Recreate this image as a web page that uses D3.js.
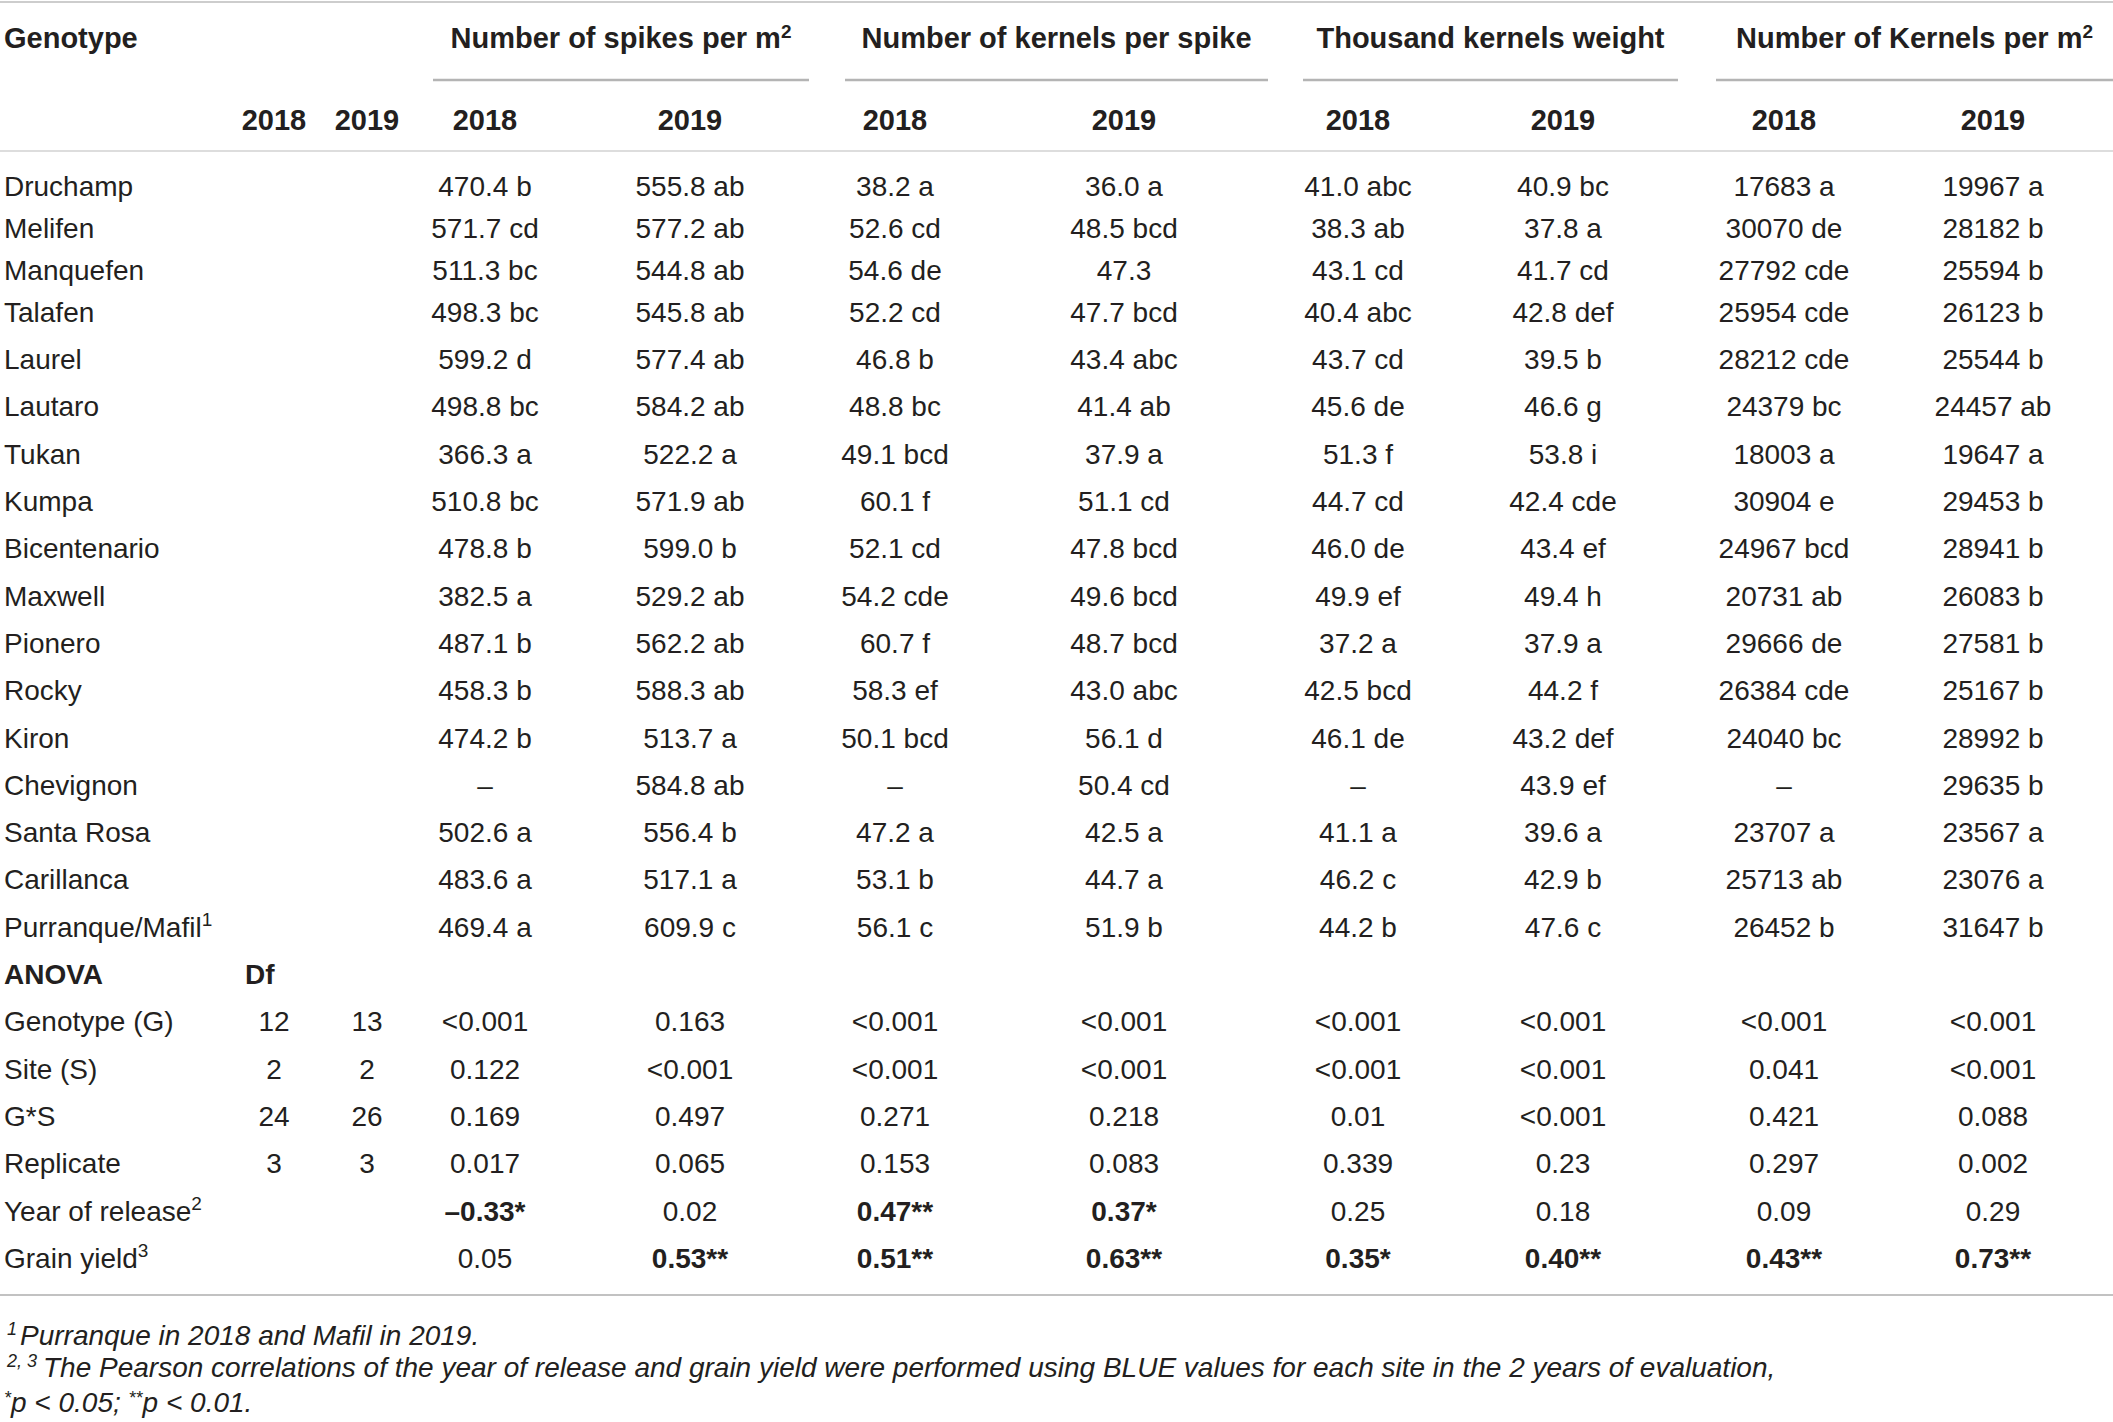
<!DOCTYPE html>
<html>
<head>
<meta charset="utf-8">
<script src="https://cdn.jsdelivr.net/npm/d3@7"></script>
<style>
  html, body { margin: 0; padding: 0; background: #fff; }
  svg text { font-family: "Liberation Sans", Arial, sans-serif; fill: #231f20; }
</style>
</head>
<body>
<div id="chart"></div>
<script>
const genotypes = ["Druchamp", "Melifen", "Manquefen", "Talafen", "Laurel", "Lautaro", "Tukan", "Kumpa",
    "Bicentenario", "Maxwell", "Pionero", "Rocky", "Kiron", "Chevignon", "Santa Rosa", "Carillanca", "Purranque/Mafil"];
const genotypeNotes = ["", "", "", "", "", "", "", "", "", "", "", "", "", "", "", "", "1"];

const spikes2018 = [470.4, 571.7, 511.3, 498.3, 599.2, 498.8, 366.3, 510.8, 478.8, 382.5, 487.1, 458.3, 474.2, null, 502.6, 483.6, 469.4];
const spikes2018Letters = ["b", "cd", "bc", "bc", "d", "bc", "a", "bc", "b", "a", "b", "b", "b", "", "a", "a", "a"];
const spikes2019 = [555.8, 577.2, 544.8, 545.8, 577.4, 584.2, 522.2, 571.9, 599.0, 529.2, 562.2, 588.3, 513.7, 584.8, 556.4, 517.1, 609.9];
const spikes2019Letters = ["ab", "ab", "ab", "ab", "ab", "ab", "a", "ab", "b", "ab", "ab", "ab", "a", "ab", "b", "a", "c"];

const kernels2018 = [38.2, 52.6, 54.6, 52.2, 46.8, 48.8, 49.1, 60.1, 52.1, 54.2, 60.7, 58.3, 50.1, null, 47.2, 53.1, 56.1];
const kernels2018Letters = ["a", "cd", "de", "cd", "b", "bc", "bcd", "f", "cd", "cde", "f", "ef", "bcd", "", "a", "b", "c"];
const kernels2019 = [36.0, 48.5, 47.3, 47.7, 43.4, 41.4, 37.9, 51.1, 47.8, 49.6, 48.7, 43.0, 56.1, 50.4, 42.5, 44.7, 51.9];
const kernels2019Letters = ["a", "bcd", "", "bcd", "abc", "ab", "a", "cd", "bcd", "bcd", "bcd", "abc", "d", "cd", "a", "a", "b"];

const tkw2018 = [41.0, 38.3, 43.1, 40.4, 43.7, 45.6, 51.3, 44.7, 46.0, 49.9, 37.2, 42.5, 46.1, null, 41.1, 46.2, 44.2];
const tkw2018Letters = ["abc", "ab", "cd", "abc", "cd", "de", "f", "cd", "de", "ef", "a", "bcd", "de", "", "a", "c", "b"];
const tkw2019 = [40.9, 37.8, 41.7, 42.8, 39.5, 46.6, 53.8, 42.4, 43.4, 49.4, 37.9, 44.2, 43.2, 43.9, 39.6, 42.9, 47.6];
const tkw2019Letters = ["bc", "a", "cd", "def", "b", "g", "i", "cde", "ef", "h", "a", "f", "def", "ef", "a", "b", "c"];

const kpm2018 = [17683, 30070, 27792, 25954, 28212, 24379, 18003, 30904, 24967, 20731, 29666, 26384, 24040, null, 23707, 25713, 26452];
const kpm2018Letters = ["a", "de", "cde", "cde", "cde", "bc", "a", "e", "bcd", "ab", "de", "cde", "bc", "", "a", "ab", "b"];
const kpm2019 = [19967, 28182, 25594, 26123, 25544, 24457, 19647, 29453, 28941, 26083, 27581, 25167, 28992, 29635, 23567, 23076, 31647];
const kpm2019Letters = ["a", "b", "b", "b", "b", "ab", "a", "b", "b", "b", "b", "b", "b", "b", "a", "a", "b"];

const anovaTerms = ["Genotype (G)", "Site (S)", "G*S", "Replicate", "Year of release", "Grain yield"];
const anovaNotes = ["", "", "", "", "2", "3"];
const anovaDf2018 = [12, 2, 24, 3, null, null];
const anovaDf2019 = [13, 2, 26, 3, null, null];
const anovaSpikes2018 = ["<0.001", "0.122", "0.169", "0.017", "\u20130.33*", "0.05"];
const anovaSpikes2019 = ["0.163", "<0.001", "0.497", "0.065", "0.02", "0.53**"];
const anovaKernels2018 = ["<0.001", "<0.001", "0.271", "0.153", "0.47**", "0.51**"];
const anovaKernels2019 = ["<0.001", "<0.001", "0.218", "0.083", "0.37*", "0.63**"];
const anovaTkw2018 = ["<0.001", "<0.001", "0.01", "0.339", "0.25", "0.35*"];
const anovaTkw2019 = ["<0.001", "<0.001", "<0.001", "0.23", "0.18", "0.40**"];
const anovaKpm2018 = ["<0.001", "0.041", "0.421", "0.297", "0.09", "0.43**"];
const anovaKpm2019 = ["<0.001", "<0.001", "0.088", "0.002", "0.29", "0.73**"];

const groupTitles = ["Number of spikes per m", "Number of kernels per spike", "Thousand kernels weight", "Number of Kernels per m"];
const groupTitleNotes = ["2", "", "", "2"];
const years = ["2018", "2019"];

// ---- layout ----
const width = 2113, height = 1422;
const fontSize = 28;
const headSize = 29;
const noteSize = 28;

const colKeys = ["df18", "df19", "sp18", "sp19", "ks18", "ks19", "tk18", "tk19", "km18", "km19"];
const x = d3.scaleOrdinal()
    .domain(colKeys)
    .range([274, 367, 485, 690, 895, 1124, 1358, 1563, 1784, 1993]);

// rows: the first four rows sit a little closer together than the rest
const y = d3.scaleLinear()
    .domain([0, 3, 23])
    .range([186, 312, 1258]);

const groupSpans = [[433, 809], [845, 1268], [1303, 1678], [1716, 2113]];

const svg = d3.select("#chart")
    .append("svg")
    .attr("width", width)
    .attr("height", height);

function addText(g, str, px, py, opts) {
    opts = opts || {};
    return g.append("text")
        .attr("x", px)
        .attr("y", py)
        .attr("dy", "0.35em")
        .attr("text-anchor", opts.anchor || "start")
        .attr("font-size", opts.size || fontSize)
        .attr("font-weight", opts.bold ? "bold" : null)
        .attr("font-style", opts.italic ? "italic" : null)
        .text(str);
}

function addSup(textSel, sup, size) {
    if (!sup) return;
    textSel.append("tspan")
        .attr("font-size", size || 19)
        .attr("dy", "-0.55em")
        .text(sup);
}

// ---- rules ----
const rules = svg.append("g");
rules.append("line").attr("x1", 0).attr("x2", width).attr("y1", 2).attr("y2", 2)
    .attr("stroke", "#bdbdbd").attr("stroke-width", 1.5);
rules.selectAll("line.group")
    .data(groupSpans)
    .join("line")
    .attr("class", "group")
    .attr("x1", d => d[0]).attr("x2", d => d[1])
    .attr("y1", 80).attr("y2", 80)
    .attr("stroke", "#b4b4b4").attr("stroke-width", 2.5);
rules.append("line").attr("x1", 0).attr("x2", width).attr("y1", 151).attr("y2", 151)
    .attr("stroke", "#dddddd").attr("stroke-width", 2);
rules.append("line").attr("x1", 0).attr("x2", width).attr("y1", 1295).attr("y2", 1295)
    .attr("stroke", "#c2c2c2").attr("stroke-width", 2);

// ---- header ----
const head = svg.append("g");
addText(head, "Genotype", 4, 38, { bold: true, size: headSize });
groupTitles.forEach((t, i) => {
    const cx = (groupSpans[i][0] + groupSpans[i][1]) / 2;
    const el = addText(head, t, cx, 38, { bold: true, anchor: "middle", size: headSize });
    addSup(el, groupTitleNotes[i]);
});
colKeys.forEach((k, i) => {
    addText(head, years[i % 2], x(k), 120, { bold: true, anchor: "middle", size: headSize });
});

// ---- genotype rows ----
const body = svg.append("g");
const valueCols = [
    ["sp18", spikes2018, spikes2018Letters, 1],
    ["sp19", spikes2019, spikes2019Letters, 1],
    ["ks18", kernels2018, kernels2018Letters, 1],
    ["ks19", kernels2019, kernels2019Letters, 1],
    ["tk18", tkw2018, tkw2018Letters, 1],
    ["tk19", tkw2019, tkw2019Letters, 1],
    ["km18", kpm2018, kpm2018Letters, 0],
    ["km19", kpm2019, kpm2019Letters, 0]
];

genotypes.forEach((name, i) => {
    const el = addText(body, name, 4, y(i));
    addSup(el, genotypeNotes[i]);
    valueCols.forEach(([key, vals, letters, digits]) => {
        const v = vals[i];
        const label = v == null ? "\u2013" : (v.toFixed(digits) + (letters[i] ? " " + letters[i] : ""));
        addText(body, label, x(key), y(i), { anchor: "middle" });
    });
});

// ---- ANOVA block ----
const anova = svg.append("g");
const anovaRow0 = genotypes.length;
addText(anova, "ANOVA", 4, y(anovaRow0), { bold: true });
addText(anova, "Df", 245, y(anovaRow0), { bold: true });

const anovaCols = [
    ["sp18", anovaSpikes2018], ["sp19", anovaSpikes2019],
    ["ks18", anovaKernels2018], ["ks19", anovaKernels2019],
    ["tk18", anovaTkw2018], ["tk19", anovaTkw2019],
    ["km18", anovaKpm2018], ["km19", anovaKpm2019]
];

anovaTerms.forEach((term, j) => {
    const ry = y(anovaRow0 + 1 + j);
    const el = addText(anova, term, 4, ry);
    addSup(el, anovaNotes[j]);
    if (anovaDf2018[j] != null) addText(anova, String(anovaDf2018[j]), x("df18"), ry, { anchor: "middle" });
    if (anovaDf2019[j] != null) addText(anova, String(anovaDf2019[j]), x("df19"), ry, { anchor: "middle" });
    anovaCols.forEach(([key, vals]) => {
        const s = vals[j];
        addText(anova, s, x(key), ry, { anchor: "middle", bold: s.indexOf("*") >= 0 });
    });
});

// ---- footnotes ----
const notes = svg.append("g").attr("font-style", "italic");
const n1 = notes.append("text").attr("x", 7).attr("y", 1345).attr("font-size", noteSize);
n1.append("tspan").attr("font-size", 18).attr("dy", -10).text("1");
n1.append("tspan").attr("x", 20).attr("dy", 10).text("Purranque in 2018 and Mafil in 2019.");

const n2 = notes.append("text").attr("x", 7).attr("y", 1377).attr("font-size", noteSize);
n2.append("tspan").attr("font-size", 18).attr("dy", -10).text("2, 3");
n2.append("tspan").attr("x", 43).attr("dy", 10)
    .text("The Pearson correlations of the year of release and grain yield were performed using BLUE values for each site in the 2 years of evaluation,");

const n3 = notes.append("text").attr("x", 4).attr("y", 1412).attr("font-size", noteSize);
n3.append("tspan").attr("font-size", 18).attr("dy", -8).text("*");
n3.append("tspan").attr("dy", 8).text("p < 0.05; ");
n3.append("tspan").attr("font-size", 18).attr("dy", -8).text("**");
n3.append("tspan").attr("dy", 8).text("p < 0.01.");
</script>
</body>
</html>
